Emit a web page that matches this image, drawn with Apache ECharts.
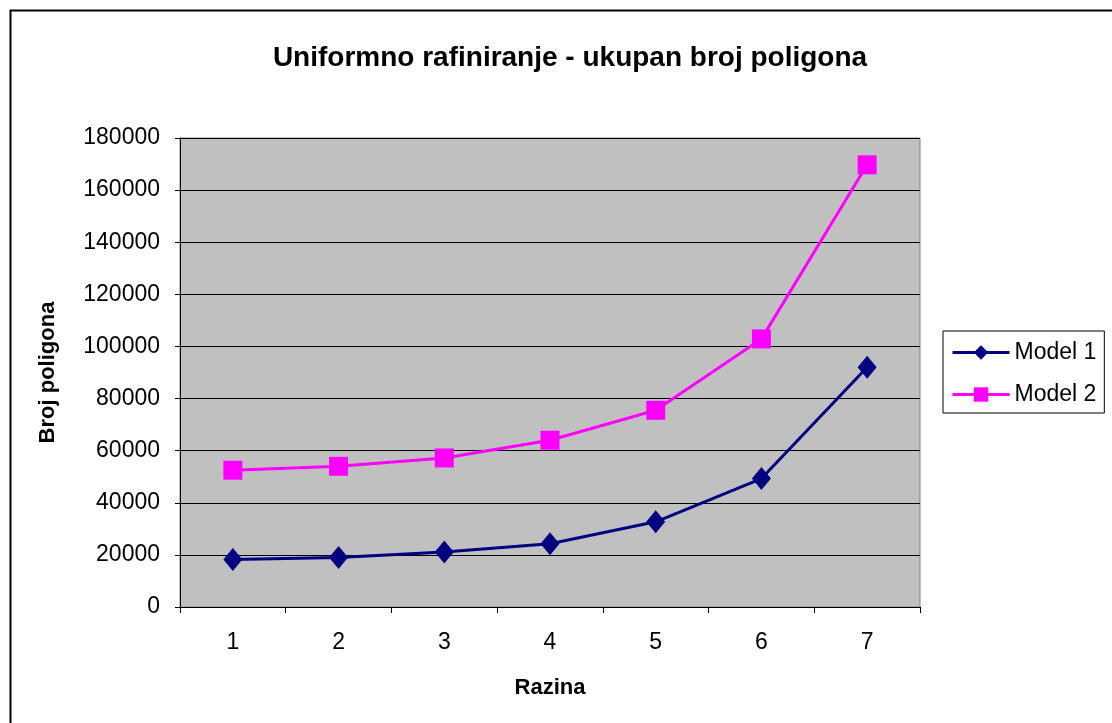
<!DOCTYPE html>
<html>
<head>
<meta charset="utf-8">
<script src="https://cdn.jsdelivr.net/npm/echarts@6/dist/echarts.min.js"></script>
<style>
  html, body { margin: 0; padding: 0; background: #fff; }
  #chart { width: 1112px; height: 723px; }
</style>
</head>
<body>
<div id="chart"></div>
<script>
// razine (x categories)
var levels = ['1', '2', '3', '4', '5', '6', '7']
// ukupan broj poligona
var model1 = [18200, 19000, 21100, 24300, 32700, 49300, 92000]
var model2 = [52500, 54000, 57200, 64000, 75500, 102900, 169700]

var chart = echarts.init(document.getElementById('chart'))

var option = {
  animation: false,
  textStyle: { fontFamily: 'Liberation Sans, Arial, sans-serif' },
  title: {
    text: 'Uniformno rafiniranje - ukupan broj poligona',
    left: 565,
    textAlign: 'center',
    top: 39,
    textStyle: { fontSize: 28, fontWeight: 'bold', color: '#000' }
  },
  graphic: [
    {
      type: 'rect',
      shape: { x: 10.5, y: 10.5, width: 1120, height: 730 },
      style: { fill: 'none', stroke: '#000', lineWidth: 2 },
      silent: true
    }
  ],
  legend: {
    orient: 'vertical',
    left: 943,
    top: 331,
    itemWidth: 57,
    itemHeight: 18,
    itemGap: 19,
    padding: [10, 8, 7, 8],
    borderColor: '#000',
    borderWidth: 1,
    lineStyle: { width: 3 },
    textStyle: { fontSize: 23, color: '#000' },
    data: ['Model 1', 'Model 2']
  },
  grid: {
    left: 180,
    right: 192,
    top: 138,
    bottom: 116,
    show: true,
    backgroundColor: '#c0c0c0',
    borderColor: '#808080',
    borderWidth: 1
  },
  xAxis: {
    type: 'category',
    data: levels,
    boundaryGap: true,
    name: 'Razina',
    nameLocation: 'middle',
    nameGap: 70,
    nameTextStyle: { fontSize: 22, fontWeight: 'bold', color: '#000' },
    axisLine: { lineStyle: { color: '#000', width: 1 } },
    axisTick: { show: true, length: 6, lineStyle: { color: '#000' } },
    axisLabel: { fontSize: 23, color: '#000', margin: 24 },
    splitLine: { show: false }
  },
  yAxis: {
    type: 'value',
    min: 0,
    max: 180000,
    interval: 20000,
    name: 'Broj poligona',
    nameLocation: 'middle',
    nameGap: 121,
    nameRotate: 90,
    nameTextStyle: { fontSize: 22, fontWeight: 'bold', color: '#000' },
    axisLine: { show: true, lineStyle: { color: '#000', width: 1 } },
    axisTick: { show: true, length: 5, lineStyle: { color: '#000' } },
    axisLabel: {
      fontSize: 23,
      color: '#000',
      margin: 20,
      formatter: function (v) { return String(v) }
    },
    splitLine: { show: true, lineStyle: { color: '#000', width: 1 } }
  },
  series: [
    {
      name: 'Model 1',
      type: 'line',
      data: model1,
      symbol: 'diamond',
      symbolSize: [19, 23],
      color: '#000080',
      lineStyle: { width: 3, color: '#000080' },
      itemStyle: { color: '#000080' }
    },
    {
      name: 'Model 2',
      type: 'line',
      data: model2,
      symbol: 'rect',
      symbolSize: 19,
      color: '#ff00ff',
      lineStyle: { width: 3, color: '#ff00ff' },
      itemStyle: { color: '#ff00ff' }
    }
  ]
}

chart.setOption(option)
window.addEventListener('resize', function () {
  chart.resize()
})
</script>
</body>
</html>
